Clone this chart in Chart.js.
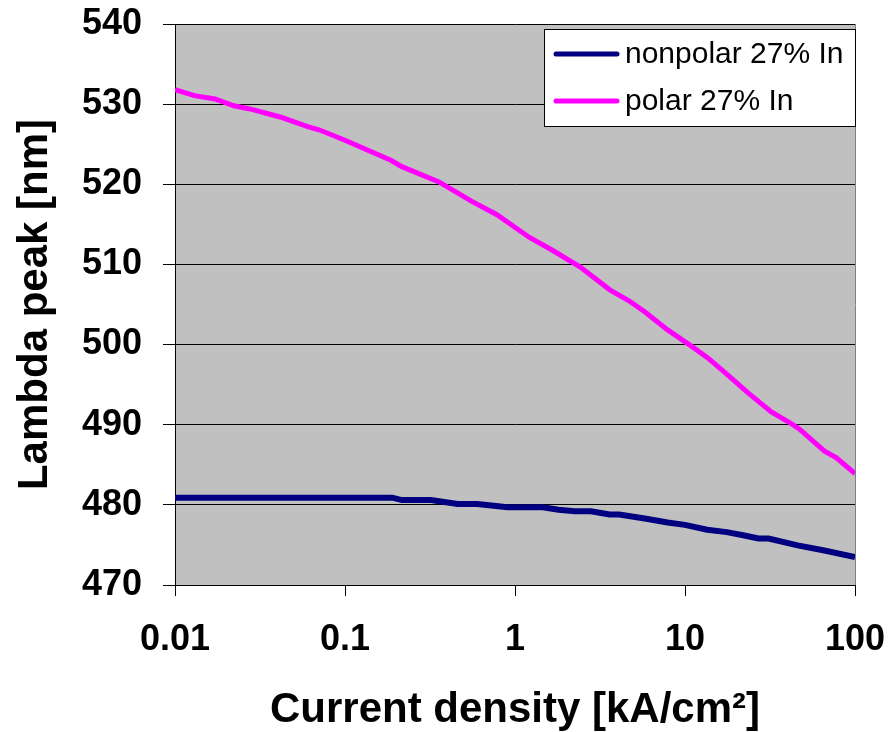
<!DOCTYPE html>
<html>
<head>
<meta charset="utf-8">
<script src="https://cdn.jsdelivr.net/npm/chart.js@4.4.1/dist/chart.umd.min.js"></script>
<style>
  html, body { margin: 0; padding: 0; background: #ffffff; }
  #wrap { width: 888px; height: 732px; }
</style>
</head>
<body>
<div id="wrap"><canvas id="c" width="888" height="732"></canvas></div>
<script>
// ---- data ----
const seriesNames = ["nonpolar 27% In", "polar 27% In"];

const nonpolarX = [0.01, 0.19, 0.216, 0.32, 0.46, 0.6, 0.75, 0.9, 1.46, 1.8, 2.25, 2.8, 3.6, 4.1, 5.8, 7.9, 10, 13.5, 17.6, 22, 27, 31, 46, 66, 100];
const nonpolarY = [480.9, 480.9, 480.6, 480.6, 480.1, 480.1, 479.9, 479.7, 479.7, 479.4, 479.2, 479.2, 478.8, 478.8, 478.3, 477.8, 477.5, 476.9, 476.6, 476.2, 475.8, 475.8, 474.95, 474.3, 473.5];

const polarX = [0.01, 0.013, 0.0172, 0.0222, 0.0276, 0.0415, 0.0603, 0.0703, 0.1, 0.186, 0.216, 0.357, 0.554, 0.783, 1.21, 1.65, 2.41, 3.63, 4.66, 5.79, 7.94, 10.9, 13.5, 17.2, 23.4, 32.2, 40.3, 46.8, 66.2, 77.4, 100];
const polarY = [531.8, 531.06, 530.65, 529.8, 529.4, 528.4, 527.2, 526.8, 525.5, 523.0, 522.2, 520.3, 517.9, 516.2, 513.4, 511.8, 509.7, 506.8, 505.5, 504.1, 501.8, 499.8, 498.4, 496.5, 494.0, 491.6, 490.4, 489.5, 486.7, 485.9, 483.9];

const xTickValues = [0.01, 0.1, 1, 10, 100];
const yMin = 470, yMax = 540, yStep = 10;

const xTitle = "Current density [kA/cm²]";
const yTitle = "Lambda peak [nm]";

// ---- chart ----
const FONT = "'Liberation Sans', Arial, sans-serif";

const plotBg = {
  id: 'plotBg',
  beforeDraw(chart) {
    const a = chart.chartArea, ctx = chart.ctx;
    ctx.save();
    ctx.fillStyle = '#C0C0C0';
    ctx.fillRect(a.left, a.top, a.right - a.left, a.bottom - a.top);
    ctx.restore();
  },
  afterDatasetsDraw(chart) {
    const a = chart.chartArea, ctx = chart.ctx;
    ctx.save();
    // right border of the plot
    ctx.strokeStyle = '#808080';
    ctx.lineWidth = 1;
    ctx.beginPath();
    ctx.moveTo(a.right + 0.5, a.top);
    ctx.lineTo(a.right + 0.5, a.bottom);
    ctx.stroke();

    // legend box
    const bx = 544, by = 29, bw = 311, bh = 97;
    ctx.fillStyle = '#ffffff';
    ctx.fillRect(bx, by, bw, bh);
    ctx.strokeStyle = '#000000';
    ctx.lineWidth = 1;
    ctx.strokeRect(bx + 0.5, by + 0.5, bw, bh);
    const rows = [54, 101];
    chart.data.datasets.forEach((ds, i) => {
      const y = rows[i];
      ctx.strokeStyle = ds.borderColor;
      ctx.lineWidth = 5;
      ctx.lineCap = 'round';
      ctx.beginPath();
      ctx.moveTo(556, y);
      ctx.lineTo(617, y);
      ctx.stroke();
      ctx.fillStyle = '#000000';
      ctx.font = '30px ' + FONT;
      ctx.textBaseline = 'middle';
      ctx.textAlign = 'left';
      ctx.fillText(ds.label, 625, y + 1);
    });
    ctx.restore();
  }
};

const toPts = (xs, ys) => xs.map((x, i) => ({ x: x, y: ys[i] }));

new Chart(document.getElementById('c'), {
  type: 'line',
  data: {
    datasets: [
      {
        label: seriesNames[0],
        data: toPts(nonpolarX, nonpolarY),
        borderColor: '#000080',
        backgroundColor: '#000080',
        borderWidth: 6,
        pointRadius: 0,
        tension: 0,
        fill: false
      },
      {
        label: seriesNames[1],
        data: toPts(polarX, polarY),
        borderColor: '#FF00FF',
        backgroundColor: '#FF00FF',
        borderWidth: 5,
        pointRadius: 0,
        tension: 0,
        fill: false
      }
    ]
  },
  options: {
    responsive: false,
    animation: false,
    devicePixelRatio: 1,
    layout: { padding: { left: 0, right: 33, top: 24, bottom: 0 } },
    plugins: {
      legend: { display: false },
      tooltip: { enabled: false }
    },
    scales: {
      x: {
        type: 'logarithmic',
        position: 'bottom',
        min: 0.01,
        max: 100,
        afterBuildTicks: (axis) => { axis.ticks = xTickValues.map(v => ({ value: v })); },
        afterFit: (axis) => { axis.height = 147; axis.paddingLeft = 0; axis.paddingRight = 0; },
        grid: { display: true, drawOnChartArea: false, drawTicks: true, tickLength: 11, color: '#000000', lineWidth: 1 },
        border: { display: true, color: '#000000', width: 1 },
        ticks: {
          autoSkip: false,
          maxRotation: 0,
          padding: 22,
          color: '#000000',
          font: { family: FONT, size: 36, weight: 'bold' },
          callback: (v) => String(v)
        },
        title: {
          display: true,
          text: xTitle,
          color: '#000000',
          font: { family: FONT, size: 42, weight: 'bold', lineHeight: 1 },
          padding: { top: 0, bottom: 1 }
        }
      },
      y: {
        position: 'left',
        min: yMin,
        max: yMax,
        afterFit: (axis) => { axis.width = 175; axis.paddingTop = 0; axis.paddingBottom = 0; },
        grid: { display: true, drawOnChartArea: true, drawTicks: true, tickLength: 12, color: '#000000', lineWidth: 1 },
        border: { display: true, color: '#000000', width: 1 },
        ticks: {
          stepSize: yStep,
          padding: 21,
          color: '#000000',
          font: { family: FONT, size: 36, weight: 'bold' }
        },
        title: {
          display: true,
          text: yTitle,
          color: '#000000',
          font: { family: FONT, size: 42, weight: 'bold', lineHeight: 1 },
          padding: { top: 14, bottom: 0 }
        }
      }
    }
  },
  plugins: [plotBg]
});
</script>
</body>
</html>
